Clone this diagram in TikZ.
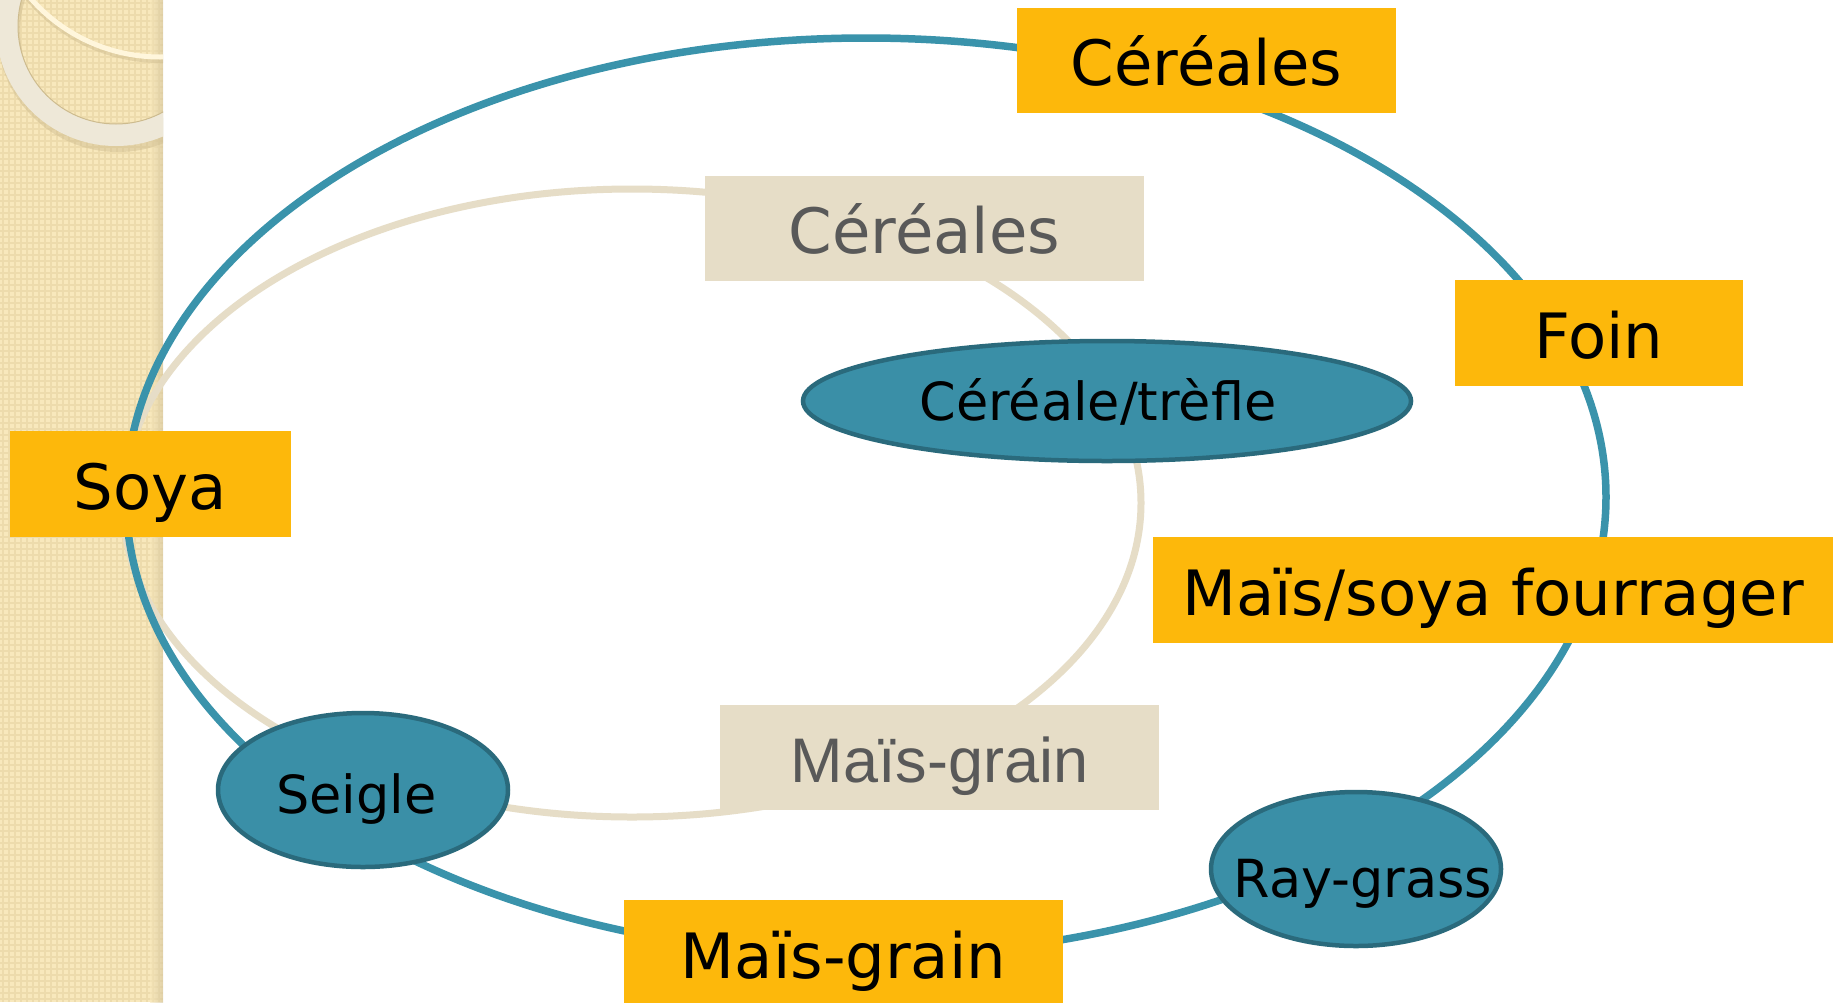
\documentclass[tikz,border=0pt]{standalone}
\usepackage{fontspec}
\setmainfont{DejaVu Sans}
\newfontfamily\arialfont{Liberation Sans}
\usetikzlibrary{shapes.geometric}
\definecolor{orangebox}{HTML}{FDB80B}
\definecolor{beigebox}{HTML}{E6DDC7}
\definecolor{tealfill}{HTML}{3A8FA7}
\definecolor{tealedge}{HTML}{2A6A7C}
\definecolor{blueline}{HTML}{3A93AB}
\definecolor{graytext}{HTML}{595959}
\definecolor{stripbase}{HTML}{F8E8BC}
\definecolor{stripgrid}{HTML}{EDDBAC}
\definecolor{stripedge}{HTML}{E2CFA0}
\definecolor{ringcol}{HTML}{EEE8D8}
\definecolor{ringedge}{HTML}{CDBB8E}
\definecolor{arccol}{HTML}{FFF6DC}
\begin{document}
\begin{tikzpicture}[x=1pt,y=-1pt,
  bigfont/.style={font=\fontsize{62.5}{70}\selectfont},
  smallfont/.style={font=\fontsize{52.5}{60}\selectfont},
  obox/.style={rectangle, fill=orangebox, inner sep=0pt, bigfont, text=black,
     text height=50pt, text depth=0pt},
  bbox/.style={rectangle, fill=beigebox, inner sep=0pt, bigfont, text=graytext,
     text height=50pt, text depth=0pt},
  tealell/.style={ellipse, fill=tealfill, draw=tealedge, line width=4.5pt, inner sep=0pt},
  elltext/.style={smallfont, text=black, anchor=base, inner sep=0pt},
  cycleblue/.style={draw=blueline, line width=7.5pt},
  cyclebeige/.style={draw=beigebox, line width=7pt}
]
\useasboundingbox (0,0) rectangle (1835,1002);
\fill[white] (0,0) rectangle (1835,1002);

% decorative strip
\begin{scope}
  \clip (0,0) rectangle (163,1002);
  \fill[stripbase] (0,0) rectangle (163,1002);
  \foreach \gx in {3,9,...,165} {\draw[stripgrid, line width=2pt] (\gx,0) -- (\gx,1002);}
  \foreach \gy in {3,9,...,1005} {\draw[stripgrid, line width=2pt] (0,\gy) -- (163,\gy);}
  \shade[left color=stripbase, right color=stripedge!85!gray, opacity=0.6] (150,0) rectangle (163,1002);
  % thin arc with shadow
  \draw[ringedge, line width=4pt, opacity=0.45] (160,-111) circle (172);
  \draw[arccol, line width=5pt] (160,-115) circle (172);
  % thick ring with shadow
  \fill[ringedge, opacity=0.45, even odd rule] (118,31) circle (121) (118,31) circle (98);
  \fill[ringcol, even odd rule] (116,26) circle (120) (116,26) circle (98);
  \draw[ringedge, line width=1pt] (116,26) circle (98);
\end{scope}

% cycles
\draw[cyclebeige] (632,503) ellipse [x radius=509, y radius=314];
\draw[cycleblue] (866,497) ellipse [x radius=740, y radius=459];

% beige labels
\node[bbox, minimum width=439pt, minimum height=105pt] (cerB) at (924.5,228.5) {Céréales};
\node[bbox, minimum width=439pt, minimum height=105pt, font=\arialfont\fontsize{63}{70}\selectfont] (maisB) at (939.5,757.5) {Maïs-grain};

% orange labels
\node[obox, minimum width=379pt, minimum height=105pt] (cerA) at (1206.5,60.5) {Céréales};
\node[obox, minimum width=288pt, minimum height=106pt] (foin) at (1599,333) {Foin};
\node[obox, minimum width=281pt, minimum height=106pt] (soya) at (150.5,484) {Soya};
\node[obox, minimum width=680pt, minimum height=106pt] (fourr) at (1493,590) {Maïs/soya fourrager};
\node[obox, minimum width=439pt, minimum height=106pt] (maisA) at (843.5,953) {Maïs-grain};

% teal ellipses
\node[tealell, minimum width=608pt, minimum height=120pt] (trefle) at (1107,401) {};
\node[tealell, minimum width=290pt, minimum height=154pt] (seigle) at (363,790) {};
\node[tealell, minimum width=290pt, minimum height=154pt] (ray) at (1356,869) {};
\node[elltext] (trefleT) at (1098,420) {Céréale/trèfle};
\node[elltext] (seigleT) at (356.5,813) {Seigle};
\node[elltext] (rayT) at (1363,897) {Ray-grass};
\end{tikzpicture}
\end{document}
